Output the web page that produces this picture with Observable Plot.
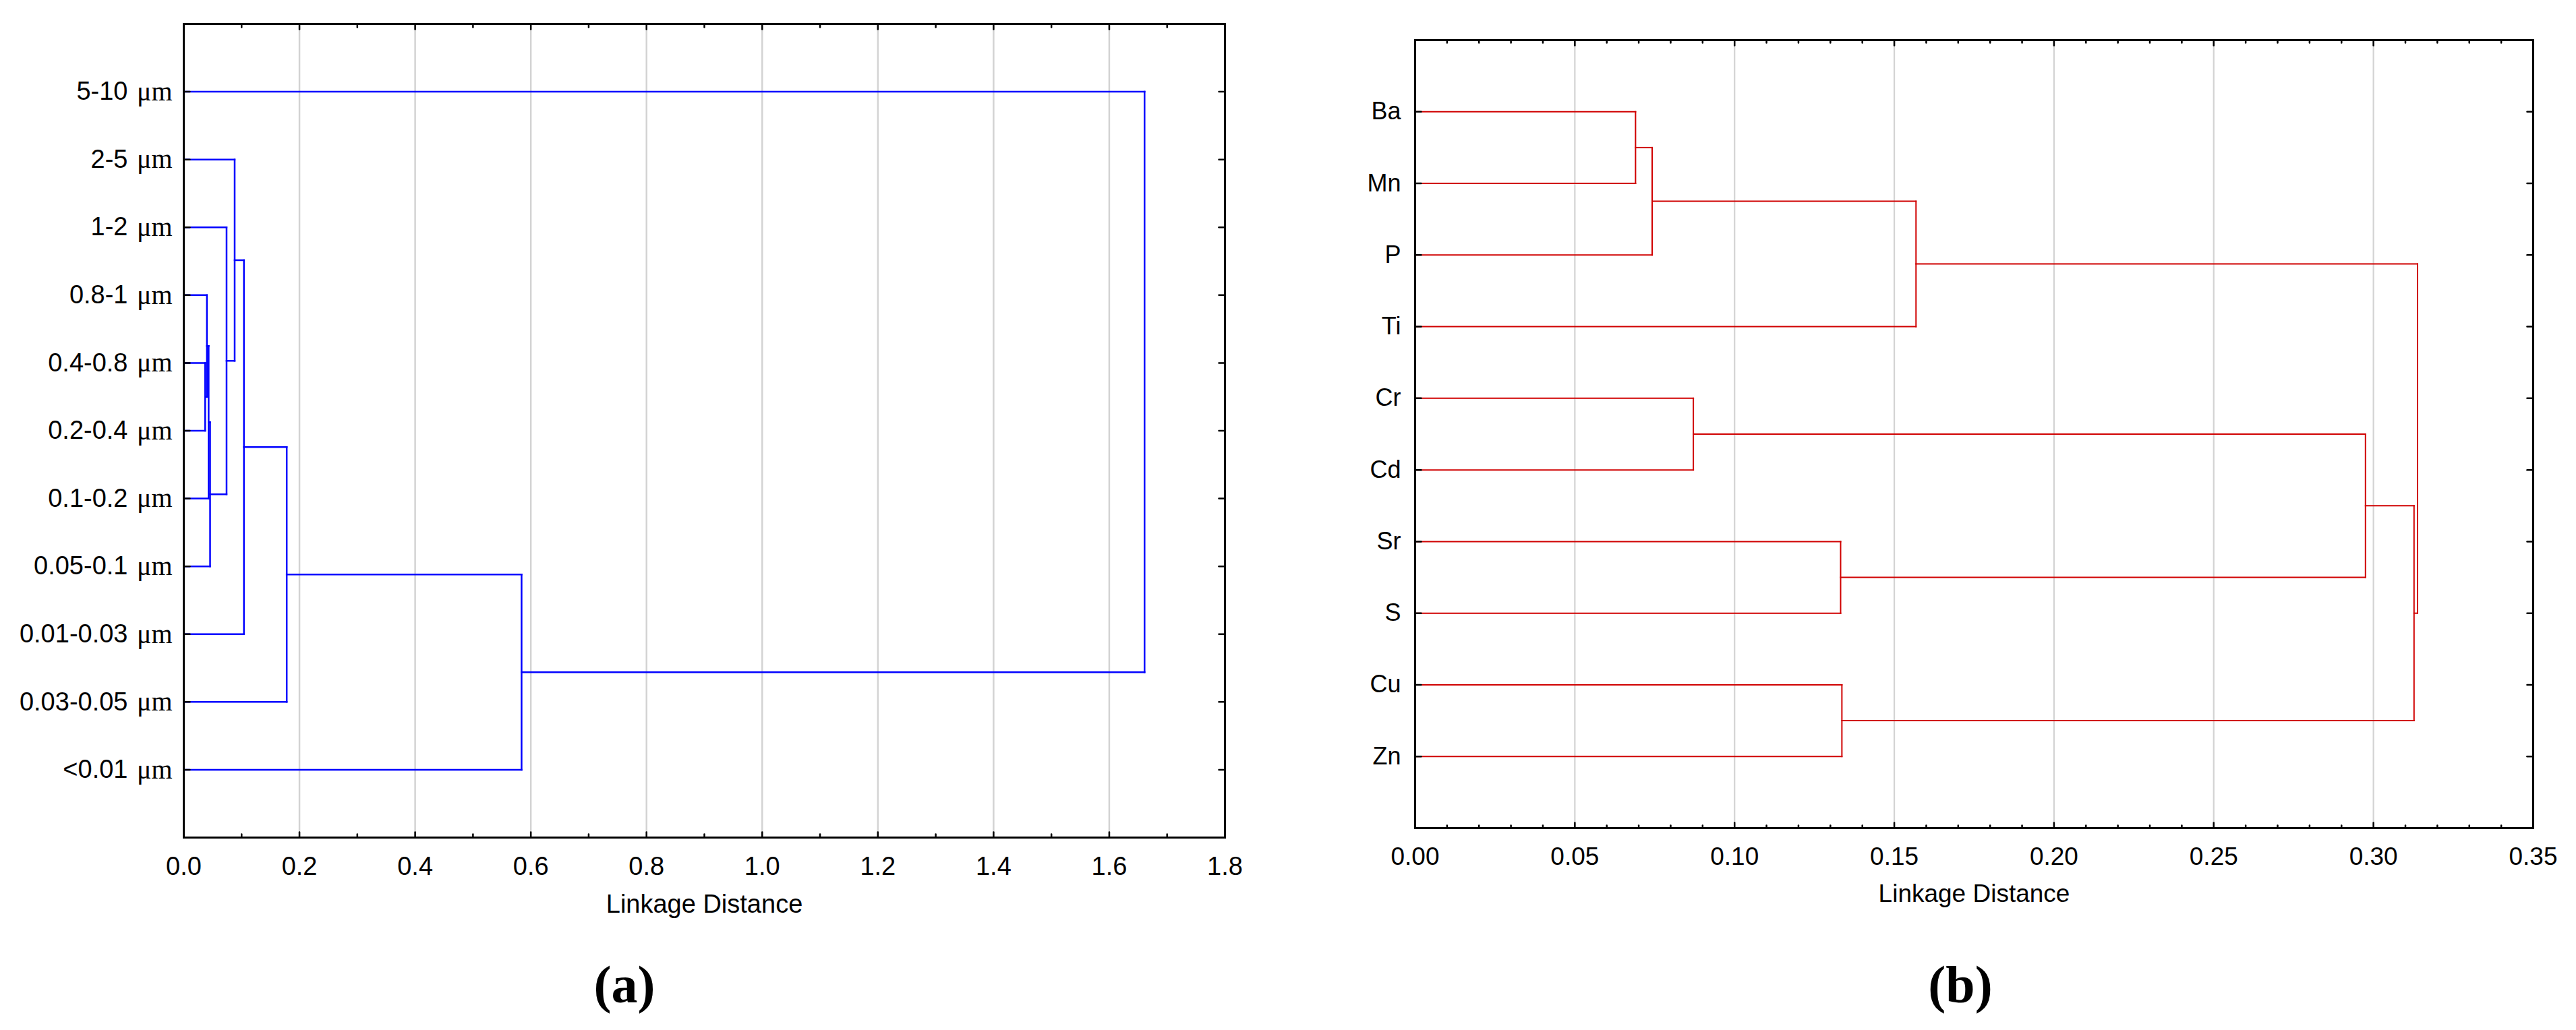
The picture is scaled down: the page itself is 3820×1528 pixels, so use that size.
<!DOCTYPE html>
<html><head><meta charset="utf-8">
<script src="https://cdn.jsdelivr.net/npm/d3@7"></script>
<script src="https://cdn.jsdelivr.net/npm/@observablehq/plot@0.6"></script>
<style>
html,body{margin:0;padding:0;background:#fff;}
#wrap{position:relative;width:3820px;height:1528px;background:#fff;overflow:hidden;}
.panel{position:absolute;top:0;}
.cap{position:absolute;width:200px;text-align:center;font-family:"Liberation Serif","Times New Roman",serif;font-weight:bold;font-size:78px;line-height:78px;color:#000;}
</style></head><body>
<div id="wrap">
  <div id="pa" class="panel" style="left:0px"></div>
  <div id="pb" class="panel" style="left:1910px"></div>
  <div class="cap" id="capA" style="left:826px;top:1422px"></div>
  <div class="cap" id="capB" style="left:2807px;top:1422px"></div>
</div>
<script>
// ---------- Panel (a): particle size fractions ----------
const leavesA = ["5-10", "2-5", "1-2", "0.8-1", "0.4-0.8", "0.2-0.4", "0.1-0.2", "0.05-0.1", "0.01-0.03", "0.03-0.05", "<0.01"];
const unitA = "μm";
// merges: child ids (leaf index, or leaves.length + merge index) and linkage distance
const mergeLeftA  = [4, 3, 12, 13, 2, 1, 16, 17, 18, 0];
const mergeRightA = [5, 11, 6, 7, 14, 15, 8, 9, 10, 19];
const mergeDistA  = [0.037, 0.040, 0.043, 0.0455, 0.074, 0.088, 0.104, 0.178, 0.584, 1.661];
const xTicksA = [0, 0.2, 0.4, 0.6, 0.8, 1.0, 1.2, 1.4, 1.6, 1.8];
const xMinorA = [0.1, 0.3, 0.5, 0.7, 0.9, 1.1, 1.3, 1.5, 1.7];
const gridA = [0.2, 0.4, 0.6, 0.8, 1.0, 1.2, 1.4, 1.6];
const titleA = ["Linkage Distance"];
const captionA = "(a)";

// ---------- Panel (b): elements ----------
const leavesB = ["Ba", "Mn", "P", "Ti", "Cr", "Cd", "Sr", "S", "Cu", "Zn"];
const mergeLeftB  = [0, 10, 11, 4, 6, 8, 13, 16, 12];
const mergeRightB = [1, 2, 3, 5, 7, 9, 14, 15, 17];
const mergeDistB  = [0.0690, 0.0742, 0.1568, 0.0871, 0.1332, 0.1336, 0.2975, 0.3127, 0.3138];
const xTicksB = [0, 0.05, 0.10, 0.15, 0.20, 0.25, 0.30, 0.35];
const gridB = [0.05, 0.10, 0.15, 0.20, 0.25, 0.30];
const titleB = ["Linkage Distance"];
const captionB = "(b)";

function dendroSegments(leaves, left, right, dist) {
  const ypos = leaves.map((d, i) => i + 1);
  const hgt = leaves.map(() => 0);
  const segs = [];
  left.forEach((a, k) => {
    const b = right[k], d = dist[k];
    const ya = ypos[a], yb = ypos[b];
    segs.push({x1: hgt[a], y1: ya, x2: d, y2: ya});
    segs.push({x1: hgt[b], y1: yb, x2: d, y2: yb});
    segs.push({x1: d, y1: ya, x2: d, y2: yb});
    ypos.push((ya + yb) / 2);
    hgt.push(d);
  });
  return segs;
}

const tickShape = {draw(context, l) { context.moveTo(0, 0); context.lineTo(0, -l); }};
function tickMarks(values, channel, frameAnchor, rotate, length, sw) {
  const o = {frameAnchor, rotate, length, anchor: "start", shape: tickShape, stroke: "black", strokeWidth: sw};
  o[channel] = d => d;
  return Plot.vector(values, o);
}

const FONT = "'Liberation Sans', Arial, sans-serif";
const SERIF = "'Liberation Serif', 'Times New Roman', serif";

// ----- plot (a)
const rowsA = leavesA.map((d, i) => i + 1);
const plotA = Plot.plot({
  width: 1910, height: 1400,
  marginLeft: 272, marginRight: 94, marginTop: 35, marginBottom: 158,
  style: {fontFamily: FONT, background: "white", color: "black", overflow: "visible"},
  x: {domain: [0, 1.8]},
  y: {domain: [0, leavesA.length + 1], reverse: true},
  marks: [
    Plot.ruleX(gridA, {stroke: "#d3d3d3", strokeWidth: 2.5}),
    Plot.link(dendroSegments(leavesA, mergeLeftA, mergeRightA, mergeDistA), {
      x1: "x1", y1: "y1", x2: "x2", y2: "y2", stroke: "#0000ff", strokeWidth: 2.5, strokeLinecap: "square"
    }),
    Plot.frame({stroke: "black", strokeWidth: 3}),
    tickMarks(xTicksA, "x", "bottom", 0, 8, 2.5),
    tickMarks(xMinorA, "x", "bottom", 0, 5, 2.5),
    tickMarks(xTicksA, "x", "top", 180, 8, 2.5),
    tickMarks(xMinorA, "x", "top", 180, 5, 2.5),
    tickMarks(rowsA, "y", "left", 90, 9, 2.5),
    tickMarks(rowsA, "y", "right", -90, 9, 2.5),
    Plot.axisX({ticks: xTicksA, tickSize: 0, tickPadding: 29, tickFormat: d3.format(".1f"), fontSize: 38, fontFamily: FONT}),
    Plot.axisY({ticks: rowsA, tickSize: 0, tickPadding: 83, tickFormat: d => leavesA[d - 1], fontSize: 38, fontFamily: FONT}),
    Plot.axisY({ticks: rowsA, tickSize: 0, tickPadding: 17, tickFormat: () => unitA, fontSize: 40, fontFamily: SERIF}),
    Plot.text(titleA, {frameAnchor: "bottom", dy: 111, fontSize: 38, fontFamily: FONT, fill: "black"})
  ]
});
document.getElementById("pa").appendChild(plotA);

// ----- plot (b)
const rowsB = leavesB.map((d, i) => i + 1);
const minorB = d3.range(1, 35).map(i => i / 100).filter(v => Math.round(v * 100) % 5 !== 0);
const plotB = Plot.plot({
  width: 1910, height: 1400,
  marginLeft: 188, marginRight: 64, marginTop: 59, marginBottom: 172,
  style: {fontFamily: FONT, background: "white", color: "black", overflow: "visible"},
  x: {domain: [0, 0.35]},
  y: {domain: [0, leavesB.length + 1], reverse: true},
  marks: [
    Plot.ruleX(gridB, {stroke: "#d3d3d3", strokeWidth: 2.2}),
    Plot.link(dendroSegments(leavesB, mergeLeftB, mergeRightB, mergeDistB), {
      x1: "x1", y1: "y1", x2: "x2", y2: "y2", stroke: "#d00000", strokeWidth: 2, strokeLinecap: "square"
    }),
    Plot.frame({stroke: "black", strokeWidth: 3}),
    tickMarks(xTicksB, "x", "bottom", 0, 8, 2.5),
    tickMarks(minorB, "x", "bottom", 0, 4, 2.5),
    tickMarks(xTicksB, "x", "top", 180, 8, 2.5),
    tickMarks(minorB, "x", "top", 180, 4, 2.5),
    tickMarks(rowsB, "y", "left", 90, 9, 2.5),
    tickMarks(rowsB, "y", "right", -90, 9, 2.5),
    Plot.axisX({ticks: xTicksB, tickSize: 0, tickPadding: 28, tickFormat: d3.format(".2f"), fontSize: 37, fontFamily: FONT}),
    Plot.axisY({ticks: rowsB, tickSize: 0, tickPadding: 21, tickFormat: d => leavesB[d - 1], fontSize: 36, fontFamily: FONT}),
    Plot.text(titleB, {frameAnchor: "bottom", dy: 109, fontSize: 37, fontFamily: FONT, fill: "black"})
  ]
});
document.getElementById("pb").appendChild(plotB);

document.getElementById("capA").textContent = captionA;
document.getElementById("capB").textContent = captionB;
</script>
</body></html>
